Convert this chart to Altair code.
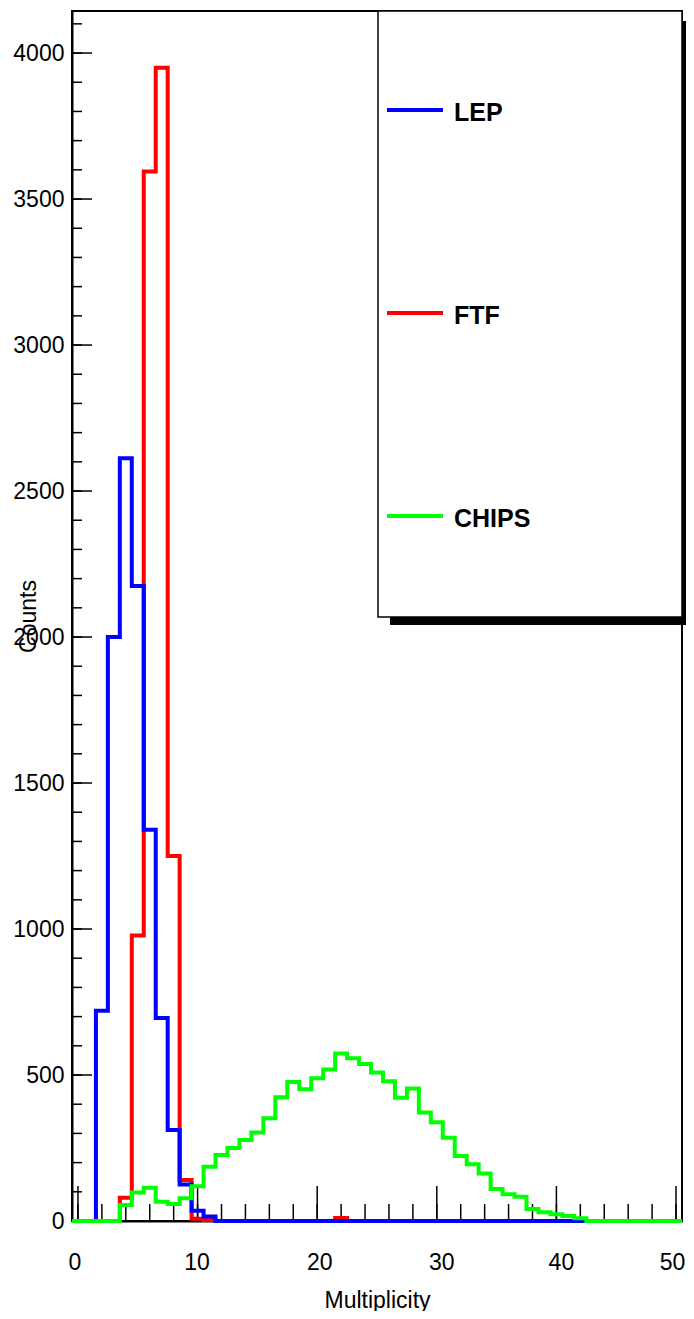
import altair as alt
import pandas as pd

# ---------------- data ----------------
bin_centers = list(range(51))  # multiplicity bins, width 1, centred on integers
series_names = ["LEP", "FTF", "CHIPS"]
series_colors = ["#0000ff", "#ff0000", "#00ff00"]

lep_counts = [0, 0, 720, 2000, 2612, 2175, 1340, 695, 312, 125, 35, 15] + [0] * 39
ftf_counts = [0, 0, 0, 0, 80, 978, 3594, 3950, 1250, 140, 8, 3] + [0] * 10 + [10] + [0] * 28
chips_counts = [0, 0, 0, 0,
                55, 98, 114, 66, 58, 78, 119, 186, 226, 250, 277, 303, 352, 424, 476, 451,
                489, 519, 574, 557, 538, 509, 479, 422, 454, 372, 338, 285, 223, 194, 163,
                110, 92, 83, 41, 30, 23, 17, 9] + [0] * 8

x_label_values = [0, 10, 20, 30, 40, 50]
x_minor_ticks = list(range(0, 51, 2))
y_label_values = list(range(0, 4001, 500))
y_minor_ticks = list(range(0, 4101, 100))

# ---------------- build step table (bin edges) ----------------
rows = []
for name, counts in zip(series_names, [lep_counts, ftf_counts, chips_counts]):
    for c, v in zip(bin_centers, counts):
        rows.append({"series": name, "edge": c - 0.5, "count": v})
    rows.append({"series": name, "edge": bin_centers[-1] + 0.5, "count": counts[-1]})
hist_df = pd.DataFrame(rows)

# ---------------- layout ----------------
W, H = 610, 1210
FONT = "Liberation Sans"
LW = 4
one_row = pd.DataFrame({"k": [0]})

xscale = alt.Scale(domain=[-0.5, 50.5], nice=False, zero=False)
yscale = alt.Scale(domain=[0, 4144], nice=False, zero=True)

x_label_offset = {
    "condition": [
        {"test": "datum.value == 0", "value": -3.5},
        {"test": "datum.value == 10", "value": -1},
        {"test": "datum.value == 20", "value": 2},
        {"test": "datum.value == 50", "value": -4},
    ],
    "value": 4.5,
}

X_AX = alt.Axis(title="Multiplicity", values=x_label_values, format="d", ticks=False, grid=False,
                domainColor="black", domainWidth=2, labelFont=FONT, labelFontSize=23,
                labelColor="black", labelPadding=30, labelOffset=x_label_offset, labelFlush=False,
                labelOverlap=False, titleFont=FONT, titleFontSize=23, titleFontWeight="normal",
                titleColor="black", titleY=86, titleBaseline="alphabetic")
Y_AX = alt.Axis(title="Counts", values=y_label_values, format="d", ticks=False, grid=False,
                domainColor="black", domainWidth=2, labelFont=FONT, labelFontSize=23,
                labelColor="black", labelPadding=8, labelBaseline="middle", labelFlush=False,
                labelOverlap=False, titleFont=FONT, titleFontSize=23, titleFontWeight="normal",
                titleColor="black", titleX=-37, titleBaseline="alphabetic", titleAngle=270)

layers = []

# inward ticks (ROOT style)
def xticks(vals, length):
    return alt.Chart(pd.DataFrame({"t": vals})).mark_rule(color="black", strokeWidth=1.5).encode(
        x=alt.X("t:Q", scale=xscale, axis=X_AX),
        y=alt.value(H), y2=alt.value(H - length))

def yticks(vals, length):
    return alt.Chart(pd.DataFrame({"t": vals})).mark_rule(color="black", strokeWidth=1.5).encode(
        y=alt.Y("t:Q", scale=yscale, axis=Y_AX),
        x=alt.value(0), x2=alt.value(length))

layers += [xticks(x_minor_ticks, 17), xticks(x_label_values, 35),
           yticks(y_minor_ticks, 10), yticks(y_label_values, 20)]

# histograms (drawn FTF, LEP, CHIPS so that CHIPS is on top)
for name in ["FTF", "LEP", "CHIPS"]:
    col = series_colors[series_names.index(name)]
    layers.append(
        alt.Chart(hist_df[hist_df.series == name]).mark_line(
            interpolate="step-after", color=col, strokeWidth=LW,
            strokeJoin="miter", strokeCap="butt").encode(
            x=alt.X("edge:Q", scale=xscale, axis=X_AX),
            y=alt.Y("count:Q", scale=yscale, axis=Y_AX))
    )

# legend box with shadow
layers.append(alt.Chart(one_row).mark_rect(color="black").encode(
    x=alt.value(318), x2=alt.value(618), y=alt.value(10), y2=alt.value(614)))
layers.append(alt.Chart(one_row).mark_rect(fill="white", stroke="black", strokeWidth=1.5).encode(
    x=alt.value(306), x2=alt.value(610), y=alt.value(0), y2=alt.value(606)))

for i, (name, col) in enumerate(zip(series_names, series_colors)):
    ly = 99 + i * 203
    layers.append(alt.Chart(one_row).mark_rule(color=col, strokeWidth=LW).encode(
        x=alt.value(315), x2=alt.value(371), y=alt.value(ly)))
    layers.append(alt.Chart(one_row).mark_text(
        text=name, font=FONT, fontSize=25, fontWeight="bold", align="left",
        baseline="alphabetic", color="black").encode(
        x=alt.value(382), y=alt.value(ly + 11)))

chart = alt.layer(*layers).properties(
    width=W, height=H,
    padding={"left": 64, "top": 3, "right": 4, "bottom": 90},
    autosize=alt.AutoSizeParams(type="none"),
).configure_view(stroke="black", strokeWidth=2)

chart.save("out.html", embed_options={"renderer": "svg", "actions": False})
